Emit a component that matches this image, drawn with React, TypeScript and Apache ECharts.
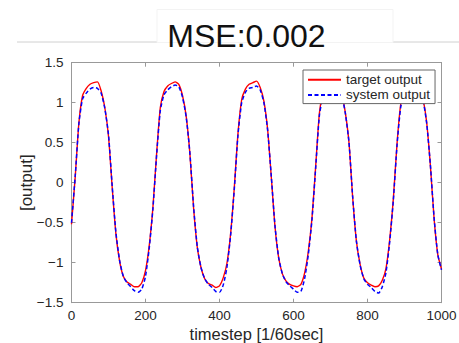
import React, { useEffect, useRef } from "react";
import * as echarts from "echarts";

const timesteps: number[] = [
  0, 10, 20, 30, 40, 50, 60, 70, 80, 90,
  100, 110, 120, 130, 140, 150, 160, 170, 180, 190,
  200, 210, 220, 230, 240, 250, 260, 270, 280, 290,
  300, 310, 320, 330, 340, 350, 360, 370, 380, 390,
  400, 410, 420, 430, 440, 450, 460, 470, 480, 490,
  500, 510, 520, 530, 540, 550, 560, 570, 580, 590,
  600, 610, 620, 630, 640, 650, 660, 670, 680, 690,
  700, 710, 720, 730, 740, 750, 760, 770, 780, 790,
  800, 810, 820, 830, 840, 850, 860, 870, 880, 890,
  900, 910, 920, 930, 940, 950, 960, 970, 980, 990,
  1000,
];

const targetOutput: number[] = [
  -0.52, 0.07, 0.75, 1.09, 1.18, 1.23, 1.25, 1.26, 1.15, 0.94,
  0.58, -0.06, -0.64, -0.98, -1.17, -1.24, -1.27, -1.3, -1.3, -1.25,
  -1.1, -0.79, -0.31, 0.36, 0.94, 1.14, 1.21, 1.24, 1.26, 1.23,
  1.09, 0.83, 0.36, -0.32, -0.81, -1.06, -1.2, -1.26, -1.28, -1.31,
  -1.29, -1.19, -1.01, -0.64, -0.06, 0.62, 1.04, 1.17, 1.23, 1.25,
  1.27, 1.19, 1.02, 0.67, 0.07, -0.55, -0.94, -1.14, -1.23, -1.27,
  -1.29, -1.3, -1.27, -1.13, -0.86, -0.44, 0.21, 0.87, 1.13, 1.2,
  1.24, 1.26, 1.25, 1.12, 0.88, 0.5, -0.19, -0.73, -1.02, -1.19,
  -1.25, -1.28, -1.3, -1.29, -1.22, -1.07, -0.71, -0.19, 0.5, 0.99,
  1.16, 1.22, 1.24, 1.26, 1.21, 1.05, 0.75, 0.21, -0.45, -0.9,
  -1.08,
];

const systemOutput: number[] = [
  -0.5, 0.08, 0.74, 1.05, 1.12, 1.17, 1.19, 1.18, 1.12, 0.93,
  0.6, -0.04, -0.62, -0.97, -1.17, -1.25, -1.3, -1.35, -1.37, -1.33,
  -1.17, -0.82, -0.33, 0.34, 0.9, 1.1, 1.16, 1.2, 1.22, 1.2,
  1.07, 0.82, 0.37, -0.3, -0.8, -1.06, -1.2, -1.27, -1.31, -1.36,
  -1.37, -1.28, -1.06, -0.66, -0.08, 0.6, 1.0, 1.13, 1.18, 1.19,
  1.21, 1.16, 1.0, 0.66, 0.08, -0.54, -0.94, -1.14, -1.24, -1.29,
  -1.33, -1.37, -1.36, -1.2, -0.9, -0.46, 0.19, 0.84, 1.08, 1.14,
  1.17, 1.19, 1.2, 1.1, 0.87, 0.5, -0.18, -0.73, -1.03, -1.2,
  -1.27, -1.31, -1.36, -1.38, -1.3, -1.12, -0.74, -0.21, 0.48, 0.95,
  1.1, 1.16, 1.18, 1.2, 1.18, 1.04, 0.74, 0.22, -0.44, -0.9,
  -1.09,
];

const xTicks: number[] = [0, 200, 400, 600, 800, 1000];
const yTickLabels: string[] = ["\u22121.5", "\u22121", "\u22120.5", "0", "0.5", "1", "1.5"];
const seriesNames: string[] = ["target output", "system output"];
const titleText = "MSE:0.002";
const xName = "timestep [1/60sec]";
const yName = "[output]";

const FONT = "'Liberation Sans', Arial, sans-serif";
const AXIS_COLOR = "#999999";
const TEXT_COLOR = "#262626";

export default function App() {
  const ref = useRef<HTMLDivElement>(null);

  useEffect(() => {
    if (!ref.current) return;
    const chart = echarts.init(ref.current, undefined, { renderer: "svg" });

    const yLabel = (v: number) => {
      const idx = Math.round((v + 1.5) / 0.5);
      return yTickLabels[idx] ?? "";
    };

    const baseX = {
      type: "value" as const,
      min: xTicks[0],
      max: xTicks[xTicks.length - 1],
      interval: 200,
      splitLine: { show: false },
      axisLine: { show: true, onZero: false, lineStyle: { color: AXIS_COLOR, width: 1 } },
      axisTick: { show: true, inside: true, length: 4, lineStyle: { color: AXIS_COLOR } },
    };
    const baseY = {
      type: "value" as const,
      min: -1.5,
      max: 1.5,
      interval: 0.5,
      splitLine: { show: false },
      axisLine: { show: true, onZero: false, lineStyle: { color: AXIS_COLOR, width: 1 } },
      axisTick: { show: true, inside: true, length: 4, lineStyle: { color: AXIS_COLOR } },
    };

    chart.setOption({
      animation: false,
      backgroundColor: "#ffffff",
      grid: {
        left: 71.5,
        right: 17.5,
        top: 62.7,
        bottom: 40.3,
        containLabel: false,
        outerBoundsMode: "none",
      },
      xAxis: [
        {
          ...baseX,
          position: "bottom",
          name: xName,
          nameLocation: "middle",
          nameGap: 23,
          nameMoveOverlap: false,
          nameTextStyle: { fontFamily: FONT, fontSize: 16.5, color: TEXT_COLOR },
          axisLabel: {
            show: true,
            margin: 6,
            fontFamily: FONT,
            fontSize: 13.5,
            color: TEXT_COLOR,
            formatter: (v: number) => String(v),
          },
        },
        {
          ...baseX,
          position: "top",
          axisLabel: { show: false },
        },
      ],
      yAxis: [
        {
          ...baseY,
          position: "left",
          name: yName,
          nameLocation: "middle",
          nameRotate: 90,
          nameGap: 37,
          nameMoveOverlap: false,
          nameTextStyle: { fontFamily: FONT, fontSize: 17, color: TEXT_COLOR },
          axisLabel: {
            show: true,
            margin: 8,
            fontFamily: FONT,
            fontSize: 13.5,
            color: TEXT_COLOR,
            formatter: yLabel,
          },
        },
        {
          ...baseY,
          position: "right",
          axisLabel: { show: false },
        },
      ],
      legend: {
        data: seriesNames,
        orient: "vertical",
        left: 303,
        top: 70,
        padding: [2, 5, 1, 4],
        itemGap: 0,
        itemWidth: 33,
        itemHeight: 15,
        itemStyle: { opacity: 0 },
        backgroundColor: "#ffffff",
        borderColor: "#666666",
        borderWidth: 1,
        borderRadius: 0,
        textStyle: { fontFamily: FONT, fontSize: 13.5, color: TEXT_COLOR, lineHeight: 15.3 },
      },
      graphic: [
        { type: "line", shape: { x1: 17, y1: 42, x2: 157, y2: 42 }, style: { stroke: "#d0d0d0", lineWidth: 1 } },
        { type: "line", shape: { x1: 393, y1: 42, x2: 459, y2: 42 }, style: { stroke: "#d0d0d0", lineWidth: 1 } },
        {
          type: "rect",
          shape: { x: 157, y: 9.5, width: 236, height: 33 },
          style: { fill: "#ffffff", stroke: "#f3f3f3", lineWidth: 1 },
        },
        {
          type: "text",
          x: 246.5,
          y: 35.5,
          style: {
            text: titleText,
            fontFamily: FONT,
            fontSize: 32,
            fill: "#111111",
            textAlign: "center",
            textVerticalAlign: "middle",
          },
        },
      ],
      series: [
        {
          name: seriesNames[0],
          type: "line",
          data: timesteps.map((t, i) => [t, targetOutput[i]]),
          symbol: "none",
          smooth: 0.2,
          lineStyle: { color: "#ff0000", width: 1.4, type: "solid" },
          itemStyle: { color: "#ff0000" },
          z: 2,
        },
        {
          name: seriesNames[1],
          type: "line",
          data: timesteps.map((t, i) => [t, systemOutput[i]]),
          symbol: "none",
          smooth: 0.2,
          lineStyle: { color: "#0000ff", width: 1.5, type: [4, 2.5] },
          itemStyle: { color: "#0000ff" },
          z: 3,
        },
      ],
    });

    return () => chart.dispose();
  }, []);

  return (
    <div
      ref={ref}
      style={{ position: "fixed", left: 0, top: 0, width: 459, height: 343 }}
    />
  );
}
